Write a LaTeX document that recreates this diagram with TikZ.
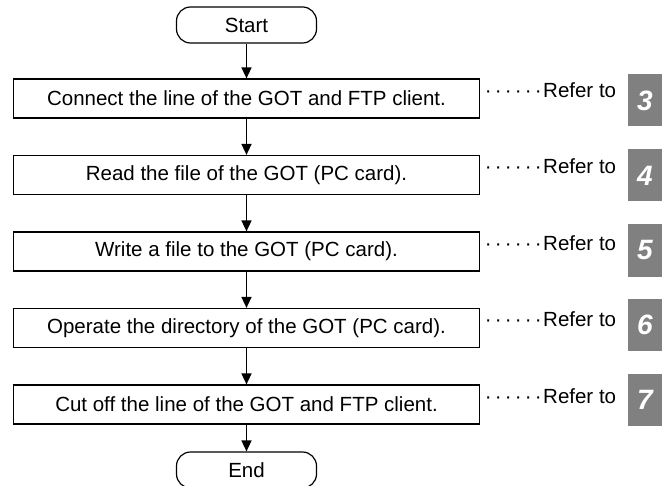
\documentclass[tikz,border=0pt]{standalone}
\usepackage{fontspec}
\setmainfont{Liberation Sans}
\usetikzlibrary{arrows.meta,positioning}
\definecolor{refGray}{HTML}{808080}
\newcommand{\refdots}{\makebox[10pt][c]{·}\makebox[10pt][c]{·}\makebox[10pt][c]{·}\makebox[10pt][c]{·}\makebox[10pt][c]{·}\makebox[10pt][c]{·}}
\tikzset{
  terminal/.style={draw,rounded corners=14pt,minimum width=140pt,minimum height=36pt,line width=1.2pt},
  procbox/.style={draw,minimum width=466pt,minimum height=39pt,line width=1.2pt},
  flowarrow/.style={-{Triangle[width=10pt,length=11pt]},line width=1.5pt},
  reftext/.style={anchor=west,inner sep=0pt},
  refnum/.style={fill=refGray,text=white,minimum width=34pt,minimum height=52pt,inner sep=0pt,
                 font=\fontsize{28}{30}\selectfont\bfseries\itshape},
}

\begin{document}
\begin{tikzpicture}[x=1pt,y=-1pt,font=\fontsize{20.5}{24}\selectfont]
    \useasboundingbox (0,0) rectangle (663,486);
    % flow
    \node[terminal] (start) at (246.5,25) {Start};
    \node[procbox] (connect) at (246.5,98.5) {Connect the line of the GOT and FTP client.};
    \node[procbox] (read)    at (246.5,175)  {Read the file of the GOT (PC card).};
    \node[procbox] (write)   at (246.5,251.5) {Write a file to the GOT (PC card).};
    \node[procbox] (operate) at (246.5,328)  {Operate the directory of the GOT (PC card).};
    \node[procbox] (cutoff)  at (246.5,404.5) {Cut off the line of the GOT and FTP client.};
    \node[terminal] (end) at (246.5,470) {End};

    \draw[flowarrow] (start) -- (connect);
    \draw[flowarrow] (connect) -- (read);
    \draw[flowarrow] (read) -- (write);
    \draw[flowarrow] (write) -- (operate);
    \draw[flowarrow] (operate) -- (cutoff);
    \draw[flowarrow] (cutoff) -- (end);

    % references
    \node[reftext] (refconnect) at (483,90)    {\refdots Refer to};
    \node[reftext] (refread)    at (483,166.5) {\refdots Refer to};
    \node[reftext] (refwrite)   at (483,243)   {\refdots Refer to};
    \node[reftext] (refoperate) at (483,319.5) {\refdots Refer to};
    \node[reftext] (refcutoff)  at (483,396)   {\refdots Refer to};

    \node[refnum] (numconnect) at (645,100.5) {3};
    \node[refnum] (numread)    at (645,175.5) {4};
    \node[refnum] (numwrite)   at (645,250.5) {5};
    \node[refnum] (numoperate) at (645,325)   {6};
    \node[refnum] (numcutoff)  at (645,399.5) {7};
\end{tikzpicture}
\end{document}
